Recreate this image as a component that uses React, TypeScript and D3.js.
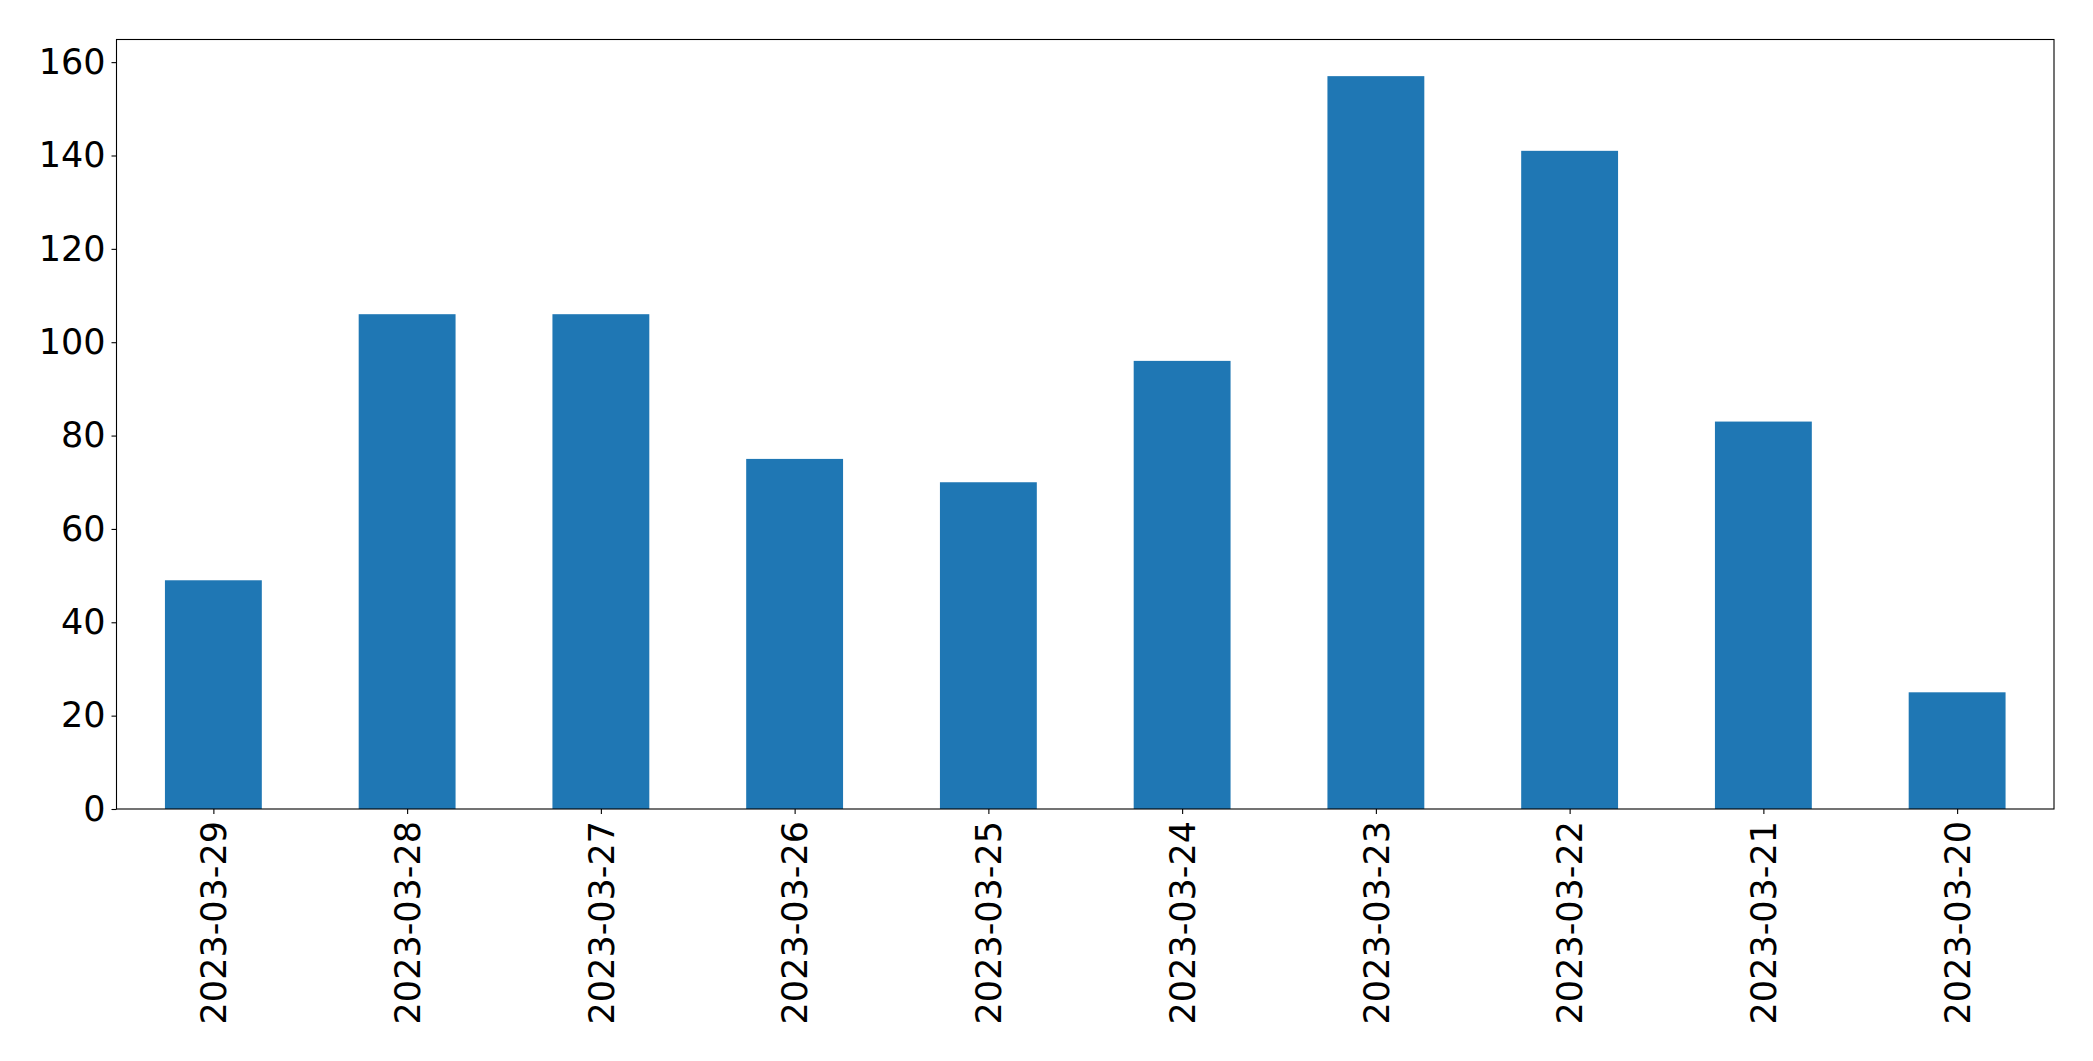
import { useEffect, useRef } from 'react';
import * as d3 from 'd3';

const dates = [
  '2023-03-29',
  '2023-03-28',
  '2023-03-27',
  '2023-03-26',
  '2023-03-25',
  '2023-03-24',
  '2023-03-23',
  '2023-03-22',
  '2023-03-21',
  '2023-03-20',
];
const counts = [49, 106, 106, 75, 70, 96, 157, 141, 83, 25];
const yTicks = [0, 20, 40, 60, 80, 100, 120, 140, 160];

function App() {
  const svgRef = useRef<SVGSVGElement | null>(null);
  const width = 2093;
  const height = 1061;
  const margin = { top: 39.5, right: 39, bottom: 252, left: 116.5 };
  const fontSize = 35;

  useEffect(() => {
    const svg = d3.select(svgRef.current);
    svg.selectAll('*').remove();

    const x0 = margin.left;
    const x1 = width - margin.right;
    const y0 = height - margin.bottom;
    const y1 = margin.top;

    // matplotlib bar: xlim [-0.5, n-0.5], width 0.5
    const xScale = d3
      .scaleLinear()
      .domain([-0.5, dates.length - 0.5])
      .range([x0, x1]);

    const yScale = d3
      .scaleLinear()
      .domain([0, (d3.max(counts) as number) * 1.05])
      .range([y0, y1]);

    const data = dates.map((d, i) => ({ date: d, value: counts[i], i }));

    svg
      .append('g')
      .selectAll('rect')
      .data(data)
      .enter()
      .append('rect')
      .attr('x', (d) => xScale(d.i - 0.25))
      .attr('y', (d) => yScale(d.value))
      .attr('width', xScale(0.25) - xScale(-0.25))
      .attr('height', (d) => yScale(0) - yScale(d.value))
      .attr('fill', '#1f77b4');

    // y axis
    const yAxis = svg
      .append('g')
      .attr('transform', `translate(${x0},0)`)
      .call(
        d3
          .axisLeft(yScale)
          .tickValues(yTicks)
          .tickSize(5)
          .tickPadding(6)
          .tickFormat((d) => String(d)),
      );
    yAxis.select('.domain').remove();
    yAxis.selectAll('line').attr('stroke', '#000').attr('stroke-width', 1.1);
    yAxis
      .selectAll('text')
      .attr('font-family', 'DejaVu Sans')
      .attr('font-size', fontSize)
      .attr('fill', '#000');

    // x axis
    const xAxis = svg
      .append('g')
      .attr('transform', `translate(0,${y0})`)
      .call(
        d3
          .axisBottom(xScale)
          .tickValues(d3.range(dates.length))
          .tickSize(5)
          .tickFormat((d) => dates[d as number]),
      );
    xAxis.select('.domain').remove();
    xAxis.selectAll('line').attr('stroke', '#000').attr('stroke-width', 1.1);
    xAxis
      .selectAll('text')
      .attr('font-family', 'DejaVu Sans')
      .attr('font-size', fontSize)
      .attr('fill', '#000')
      .attr('text-anchor', 'end')
      .attr('transform', 'rotate(-90)')
      .attr('x', -12)
      .attr('y', 0)
      .attr('dy', '0.35em');

    // frame
    svg
      .append('rect')
      .attr('x', x0)
      .attr('y', y1)
      .attr('width', x1 - x0)
      .attr('height', y0 - y1)
      .attr('fill', 'none')
      .attr('stroke', '#000')
      .attr('stroke-width', 1.1);
  }, []);

  return (
    <svg
      ref={svgRef}
      width={width}
      height={height}
      style={{ position: 'absolute', left: 0, top: 0, background: '#fff' }}
    />
  );
}

export default App;
